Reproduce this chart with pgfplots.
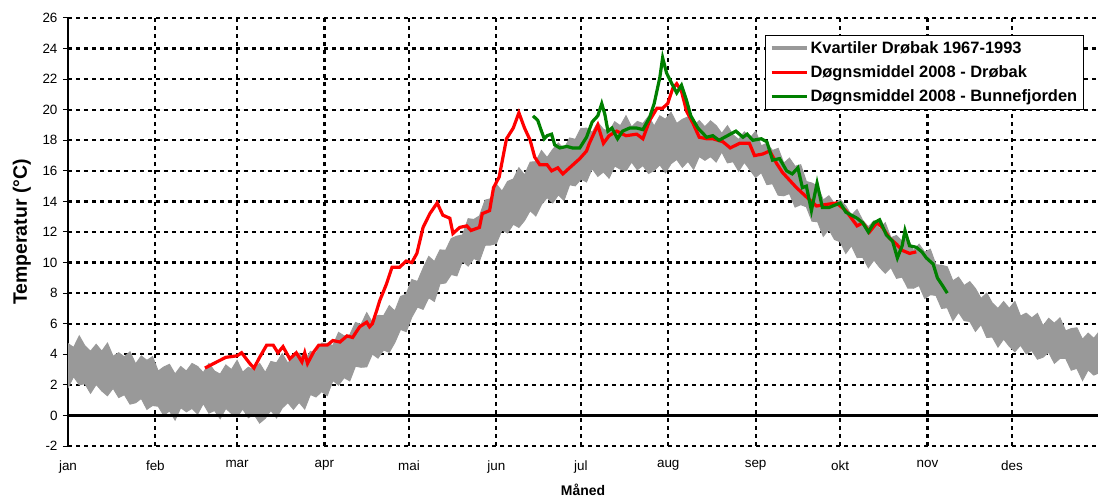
\documentclass[border=0pt]{standalone}
\usepackage{fontspec}
\setmainfont{Liberation Sans}
\usepackage{pgfplots}
\pgfplotsset{compat=1.18}
\usepgfplotslibrary{fillbetween}
\usepackage{pgfplotstable}
\definecolor{bandgray}{RGB}{153,153,153}
\definecolor{dgreen}{RGB}{0,128,0}

\pgfplotstableread{
d u l
0 4.7 1.8
2 4.45 2.55
4 5.2 2.0
6 4.55 2.08
8 4.2 1.45
10 4.65 2.03
12 4.2 1.6
14 4.73 1.29
16 3.87 1.78
18 4.1 1.17
20 3.83 1.36
22 4.16 0.74
24 3.37 0.83
26 3.89 1.11
28 3.6 0.4
30 3.85 0.65
32 2.9 0.6
34 3.17 0.0
36 3.34 0.3
38 2.71 -0.3
40 3.2 0.51
42 2.9 0.24
44 3.4 0.46
46 3.2 0.09
48 2.8 0.78
50 3.4 0.15
52 2.9 0.32
54 2.7 -0.21
56 3.3 0.46
58 3.0 0.13
60 3.6 -0.1
62 2.83 0.43
64 3.15 -0.15
66 2.98 0.08
68 3.4 -0.5
70 2.81 -0.19
72 3.53 0.33
74 3.44 -0.16
76 4.04 0.48
78 3.42 0.84
80 3.8 0.4
82 4.08 0.86
84 3.56 0.42
86 4.19 1.37
88 4.06 1.21
90 4.73 1.56
92 4.7 1.3
94 4.57 2.29
96 5.43 1.98
98 5.2 2.47
100 5.27 2.26
102 6.08 3.22
104 5.95 3.15
106 6.72 3.18
108 6.08 4.02
110 6.55 3.75
112 6.52 4.28
114 7.18 4.13
116 6.83 4.78
118 7.78 5.63
120 7.93 5.48
122 8.89 6.43
124 8.76 7.09
126 9.63 6.94
128 10.4 7.7
130 10.07 7.46
132 10.83 8.61
134 10.8 8.67
136 11.57 9.22
138 11.73 9.13
140 11.8 10.1
142 12.87 9.77
144 12.82 10.27
146 13.05 10.1
148 14.08 11.13
150 14.18 11.15
152 15.13 11.25
154 14.67 12.14
156 15.31 11.93
158 15.46 12.51
160 16.2 12.3
162 15.73 12.75
164 16.57 13.4
166 16.6 13.05
168 17.33 13.8
170 16.87 14.25
172 17.4 13.9
174 17.82 14.43
176 17.43 14.06
178 18.15 15.09
180 18.06 15.02
182 18.78 15.45
184 18.79 15.28
186 18.52 16.15
188 19.17 15.64
190 18.72 15.93
192 18.56 15.52
194 19.21 16.32
196 18.95 16.11
198 19.6 16.0
200 18.87 16.58
202 19.23 16.07
204 19.1 16.35
206 19.57 15.83
208 18.93 16.02
210 19.6 16.4
212 19.37 15.88
214 19.83 16.47
216 19.1 16.75
218 19.37 16.23
220 19.53 16.62
222 18.9 16.1
224 19.29 16.94
226 18.88 16.69
228 19.27 16.93
230 18.96 16.58
232 18.45 17.24
234 18.95 16.52
236 18.35 16.6
238 18.05 15.98
240 18.55 16.56
242 18.13 16.06
244 18.59 15.57
246 17.64 15.89
248 17.8 15.1
250 17.33 15.16
252 17.47 14.41
254 16.5 14.37
256 16.83 14.52
258 16.3 13.63
260 16.4 13.79
262 15.3 13.65
264 15.2 12.71
266 15.0 12.67
268 14.09 11.72
270 14.37 12.17
272 13.84 11.51
274 14.12 11.36
276 13.7 10.6
278 13.09 11.11
280 13.47 10.33
282 12.76 10.34
284 12.34 9.66
286 12.73 10.17
288 12.21 9.69
290 12.6 9.3
292 11.63 9.68
294 11.77 8.97
296 11.4 9.05
298 11.63 8.33
300 10.77 8.32
302 11.2 8.5
304 10.68 7.65
306 10.87 7.9
308 9.85 7.85
310 9.83 7.0
312 9.72 7.05
314 8.8 6.2
316 9.05 6.75
318 8.5 6.2
320 8.75 6.15
322 8.3 5.5
324 7.65 5.95
326 8.0 5.1
328 7.35 5.13
330 7.0 4.47
332 7.45 5.0
334 7.0 4.53
336 7.45 4.17
338 6.5 4.6
340 6.69 4.03
342 6.38 4.25
344 6.67 3.68
346 5.86 3.81
348 6.35 4.14
350 6.03 3.41
352 6.38 3.73
354 5.53 3.74
356 5.68 2.96
358 5.73 3.08
360 4.98 2.29
362 5.38 2.98
364 5.04 2.64
366 5.5 2.8
}\band

\pgfplotstableread{
d t
48.6 3.1
52.8 3.5
56 3.8
60 3.9
61.6 4.1
64.5 3.4
66 3.1
68 3.8
70.5 4.6
72.8 4.6
74.5 4.1
76.3 4.5
78.7 3.7
81 4.1
83 3.5
84 4.1
85 3.4
87 4.1
89 4.6
92 4.6
94 4.9
96.5 4.8
99 5.2
101 5.1
103.5 5.8
106 6.1
107 5.8
108 6.0
109.6 6.9
110.6 7.5
111.7 8.0
113 8.6
115 9.7
117.7 9.7
120 10.1
122 10.0
123.8 10.6
126 12.3
128.4 13.2
131 13.9
133 13.1
135.5 12.9
136.6 11.9
139 12.3
141.5 12.4
143 12.1
146 12.3
147 13.2
149.6 13.4
151 14.9
153 15.6
155.6 18.1
158 18.8
160 19.8
162 18.8
164 18.0
165.6 16.9
167.4 16.4
170 16.4
171.6 16.0
173.8 16.2
175.6 15.8
178 16.2
181.6 16.8
184 17.3
185 17.8
188 19.0
190 17.8
192 18.3
194.7 18.6
198 18.3
201.8 18.4
204 18.1
206.4 19.3
209 20.1
211 20.1
212.8 20.4
214.6 21.4
216 21.7
217.7 21.2
219.5 19.9
221.8 19.1
224 18.2
226.6 18.1
228.8 18.1
232.4 17.9
235 17.5
238.3 17.8
241.8 17.8
243.6 17.0
246.5 17.1
249 17.3
251.4 16.5
253.5 15.9
256 15.4
258.5 14.9
262 14.3
265.6 13.7
269 13.8
272.7 13.9
274 13.7
276 13.4
280 12.4
282 12.6
284.4 12.0
287 12.6
289 12.3
291.5 11.6
294 11.2
296 10.8
298.6 10.6
301 10.7
}\drobak

\pgfplotstableread{
d t
165 19.6
166.7 19.3
168 18.6
169 18.1
170 18.3
171.6 18.4
172.7 17.7
174.5 17.5
177 17.6
179 17.5
181.6 17.5
184 18.2
186 19.2
188 19.6
189.4 20.4
190.5 19.7
191.6 18.6
193 18.8
195 18.1
196.8 18.6
199.3 18.8
201.8 18.8
204 18.7
206.4 19.5
208 20.4
210 22.1
211 23.4
212.4 22.4
214 21.8
216 21.1
217.7 21.6
219.5 20.6
221 19.6
223.5 18.8
226.6 18.2
228.8 18.3
231 18.0
234 18.3
237 18.6
239.5 18.2
241 18.4
243 18.0
246 18.1
248 17.9
250 16.7
252.5 16.8
255 16.0
257 15.8
259 16.2
260.6 14.9
262 15.0
263.8 13.4
265.8 15.2
267.7 13.6
270 13.6
274 13.9
276 13.3
280 12.9
282 12.6
284 12.0
286 12.6
288 12.8
290.4 11.8
292.6 11.4
294.3 10.3
296 11.1
297 12.1
298.6 11.1
301 11.0
303 10.7
304.6 10.3
307 9.9
308.5 9.0
310.3 8.5
312 8.0
}\bunne

\begin{document}
\begin{tikzpicture}
\begin{axis}[
  scale only axis,
  width=1030bp, height=428bp,
  xmin=0, xmax=365.5, ymin=-2, ymax=26,
  axis lines*=left,
  x axis line style={draw=none},
  y axis line style={black, line width=1.2bp},
  xtick={0,31,60,91,121,152,182,213,244,274,305,335},
  xticklabels={jan,feb,mar,apr,mai,jun,jul,aug,sep,okt,nov,des},
  ytick={-2,0,2,4,6,8,10,12,14,16,18,20,22,24,26},
  yticklabels={-2,0,2,4,6,8,10,12,14,16,18,20,22,24,26},
  x tick style={draw=none},
  y tick style={black, line width=1bp},
  tick align=outside, major tick length=5bp,
  grid=major,
  major grid style={black, line width=2.2bp, dash pattern=on 3.5bp off 4.5bp},
  tick label style={font=\fontsize{13.5}{16}\selectfont},
  xticklabel style={yshift=-6bp},
  yticklabel style={xshift=-2bp},
  xlabel={\bfseries Måned},
  xlabel style={at={(axis description cs:0.5,-0.103)}, anchor=center, font=\fontsize{14}{16}\selectfont},
  ylabel={\bfseries Temperatur (°C)},
  ylabel style={at={(axis description cs:-0.0447,0.5)}, anchor=center, font=\fontsize{19.5}{22}\selectfont},
  legend cell align=left,
  legend image code/.code={\draw[#1] (0bp,0bp) -- (35bp,0bp);},
  legend style={at={(axis description cs:0.677,0.960)}, anchor=north west,
    draw=black, fill=white,
    font=\bfseries\fontsize{16.5}{19}\selectfont,
    inner xsep=4bp, inner ysep=4bp, row sep=7bp},
]
\addplot[name path=up, draw=bandgray, line width=1bp, forget plot] table[x=d,y=u]{\band};
\addplot[name path=lo, draw=bandgray, line width=1bp, forget plot] table[x=d,y=l]{\band};
\addplot[bandgray, forget plot] fill between[of=up and lo];
\addlegendimage{bandgray, line width=4bp}
\addlegendentry{Kvartiler Drøbak 1967-1993}
\addplot[black, line width=2.5bp, forget plot] coordinates {(0,0) (365.5,0)};
\addplot[red, line width=3.2bp] table[x=d,y=t]{\drobak};
\addlegendentry{Døgnsmiddel 2008 - Drøbak}
\addplot[dgreen, line width=3.2bp] table[x=d,y=t]{\bunne};
\addlegendentry{Døgnsmiddel 2008 - Bunnefjorden}
\end{axis}
\pgfresetboundingbox
\useasboundingbox (-68bp,-51bp) rectangle (1030bp,446bp);
\end{tikzpicture}
\end{document}
